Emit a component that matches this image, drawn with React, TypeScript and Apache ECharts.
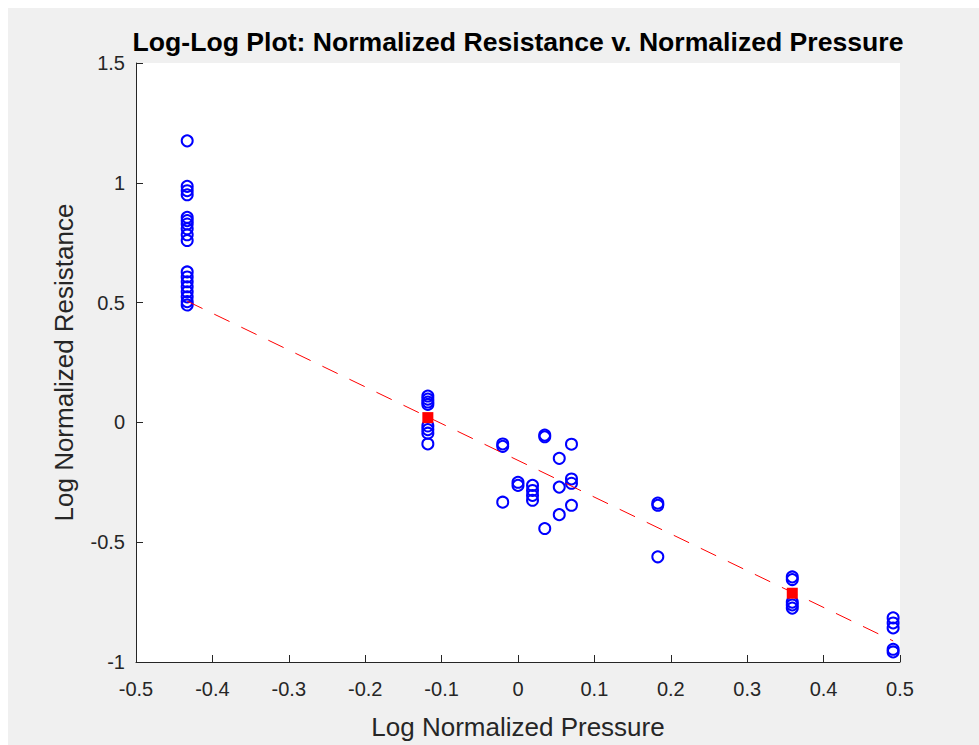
import React, { useEffect, useRef } from "react";
import * as echarts from "echarts";

const titleText = "Log-Log Plot: Normalized Resistance v. Normalized Pressure";
const xAxisName = "Log Normalized Pressure";
const yAxisName = "Log Normalized Resistance";

// x positions of measurement columns
const colX = [-0.433, -0.118, -0.02, 0.0, 0.019, 0.035, 0.054, 0.07, 0.183, 0.359, 0.491];
// y values per column
const colY0 = [1.175, 0.985, 0.967, 0.95, 0.856, 0.842, 0.828, 0.808, 0.783, 0.759, 0.628, 0.607, 0.587, 0.566, 0.545, 0.524, 0.504, 0.49];
const colY1 = [0.11, 0.097, 0.085, 0.075, -0.015, -0.03, -0.045, -0.09];
const colY2 = [-0.09, -0.1, -0.333];
const colY3 = [-0.25, -0.263];
const colY4 = [-0.263, -0.284, -0.305, -0.325];
const colY5 = [-0.053, -0.06, -0.443];
const colY6 = [-0.15, -0.27, -0.385];
const colY7 = [-0.091, -0.236, -0.254, -0.346];
const colY8 = [-0.337, -0.346, -0.561];
const colY9 = [-0.645, -0.656, -0.75, -0.762, -0.775];
const colY10 = [-0.816, -0.837, -0.858, -0.947, -0.958];
const colYs = [colY0, colY1, colY2, colY3, colY4, colY5, colY6, colY7, colY8, colY9, colY10];

// mean markers
const meanX = [-0.118, 0.359];
const meanY = [0.02, -0.713];

// fitted line endpoints
const fitX = [-0.433, 0.491];
const fitY = [0.506, -0.912];

const xTicks = { min: -0.5, max: 0.5, interval: 0.1 };
const yTicks = { min: -1, max: 1.5, interval: 0.5 };

const FONT = "'Liberation Sans', Arial, Helvetica, sans-serif";
const AXIS_COLOR = "#262626";

export default function App() {
  const ref = useRef<HTMLDivElement>(null);
  useEffect(() => {
    if (!ref.current) return;
    const chart = echarts.init(ref.current, undefined, { renderer: "svg" });
    const points: number[][] = [];
    colX.forEach((x, i) => colYs[i].forEach((y) => points.push([x, y])));
    const fmt = (v: number) => String(parseFloat(v.toFixed(1)));
    chart.setOption({
      animation: false,
      backgroundColor: "#f0f0f0",
      title: {
        text: titleText,
        left: 510,
        textAlign: "center",
        top: 20,
        padding: 0,
        textStyle: { fontFamily: FONT, fontSize: 26.6, fontWeight: "bold", color: "#000" },
      },
      grid: {
        left: 128,
        top: 55,
        right: 79,
        bottom: 79,
        show: true,
        backgroundColor: "#ffffff",
        borderWidth: 0,
      },
      xAxis: {
        type: "value",
        min: xTicks.min,
        max: xTicks.max,
        interval: xTicks.interval,
        name: xAxisName,
        nameLocation: "middle",
        nameGap: 52,
        nameTextStyle: { fontFamily: FONT, fontSize: 26, color: AXIS_COLOR },
        axisLine: { show: true, onZero: false, lineStyle: { color: AXIS_COLOR, width: 1 } },
        axisTick: { show: true, inside: true, length: 7, lineStyle: { color: AXIS_COLOR } },
        axisLabel: { fontFamily: FONT, fontSize: 20, color: AXIS_COLOR, margin: 17, formatter: fmt },
        splitLine: { show: false },
      },
      yAxis: {
        type: "value",
        min: yTicks.min,
        max: yTicks.max,
        interval: yTicks.interval,
        name: yAxisName,
        nameLocation: "middle",
        nameGap: 59,
        nameTextStyle: { fontFamily: FONT, fontSize: 26, color: AXIS_COLOR },
        axisLine: { show: true, onZero: false, lineStyle: { color: AXIS_COLOR, width: 1 } },
        axisTick: { show: true, inside: true, length: 7, lineStyle: { color: AXIS_COLOR } },
        axisLabel: { fontFamily: FONT, fontSize: 20, color: AXIS_COLOR, margin: 11, formatter: fmt },
        splitLine: { show: false },
      },
      series: [
        {
          type: "scatter",
          data: points,
          symbol: "circle",
          symbolSize: 11,
          clip: false,
          itemStyle: { color: "rgba(0,0,0,0)", borderColor: "#0000ff", borderWidth: 2, opacity: 1 },
          emphasis: { disabled: true },
        },
        {
          type: "line",
          data: fitX.map((x, i) => [x, fitY[i]]),
          showSymbol: false,
          symbol: "none",
          lineStyle: { color: "#ff0000", width: 1, type: [17, 13] },
          emphasis: { disabled: true },
        },
        {
          type: "scatter",
          data: meanX.map((x, i) => [x, meanY[i]]),
          symbol: "rect",
          symbolSize: 11,
          itemStyle: { color: "#ff0000", opacity: 1 },
          emphasis: { disabled: true },
        },
      ],
    });
    return () => chart.dispose();
  }, []);
  return (
    <div
      ref={ref}
      style={{ position: "absolute", left: 8, top: 8, width: 971, height: 737, background: "#f0f0f0" }}
    />
  );
}
